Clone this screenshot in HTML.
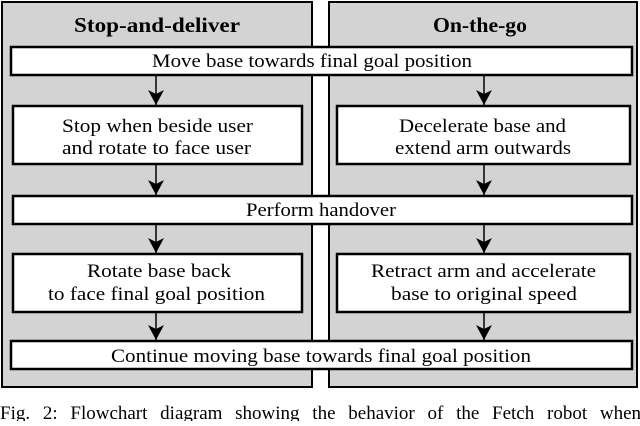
<!DOCTYPE html>
<html><head><style>
body{margin:0;background:#fff;width:640px;height:421px;overflow:hidden}
</style></head><body>
<svg width="640" height="421" xmlns="http://www.w3.org/2000/svg" font-family="Liberation Serif, serif">
<defs><marker id="a" markerWidth="16" markerHeight="16" refX="15" refY="8" orient="auto" markerUnits="userSpaceOnUse"><path d="M0,0 L15,8 L0,16 L4,8 z" fill="#000"/></marker></defs>
<rect x="2" y="2" width="310" height="385" fill="#d3d3d3" stroke="#000" stroke-width="2"/>
<rect x="329" y="2" width="308" height="385" fill="#d3d3d3" stroke="#000" stroke-width="2"/>
<text x="74" y="32" font-size="21" font-weight="bold" textLength="166" lengthAdjust="spacingAndGlyphs">Stop-and-deliver</text>
<text x="433" y="32" font-size="21" font-weight="bold" textLength="94" lengthAdjust="spacingAndGlyphs">On-the-go</text>
<g fill="#fff" stroke="#000" stroke-width="2.5">
<rect x="11" y="47" width="621" height="28"/>
<rect x="13" y="106" width="289" height="58"/>
<rect x="337" y="106" width="293" height="58"/>
<rect x="13" y="196" width="619" height="28"/>
<rect x="13" y="254" width="289" height="58"/>
<rect x="337" y="254" width="293" height="58"/>
<rect x="11" y="341" width="621" height="28"/>
</g>
<g stroke="#000" stroke-width="1.5" marker-end="url(#a)">
<line x1="156" y1="75" x2="156" y2="105"/><line x1="484" y1="75" x2="484" y2="105"/>
<line x1="156" y1="164" x2="156" y2="195"/><line x1="484" y1="164" x2="484" y2="195"/>
<line x1="156" y1="224" x2="156" y2="253"/><line x1="484" y1="224" x2="484" y2="253"/>
<line x1="156" y1="312" x2="156" y2="340"/><line x1="484" y1="312" x2="484" y2="340"/>
</g>
<g font-size="19">
<text x="152" y="67" textLength="320" lengthAdjust="spacingAndGlyphs">Move base towards final goal position</text>
<text x="62" y="132" textLength="191" lengthAdjust="spacingAndGlyphs">Stop when beside user</text>
<text x="62" y="154" textLength="189" lengthAdjust="spacingAndGlyphs">and rotate to face user</text>
<text x="399" y="132" textLength="167" lengthAdjust="spacingAndGlyphs">Decelerate base and</text>
<text x="395" y="154" textLength="176" lengthAdjust="spacingAndGlyphs">extend arm outwards</text>
<text x="246" y="216" textLength="150" lengthAdjust="spacingAndGlyphs">Perform handover</text>
<text x="87" y="277" textLength="144" lengthAdjust="spacingAndGlyphs">Rotate base back</text>
<text x="48" y="300" textLength="217" lengthAdjust="spacingAndGlyphs">to face final goal position</text>
<text x="371" y="277" textLength="225" lengthAdjust="spacingAndGlyphs">Retract arm and accelerate</text>
<text x="391" y="300" textLength="186" lengthAdjust="spacingAndGlyphs">base to original speed</text>
<text x="111" y="362" textLength="420" lengthAdjust="spacingAndGlyphs">Continue moving base towards final goal position</text>
</g>
<text x="0" y="419" font-size="19" word-spacing="8">Fig. 2: Flowchart diagram showing the behavior of the Fetch robot when</text>
</svg>
</body></html>
